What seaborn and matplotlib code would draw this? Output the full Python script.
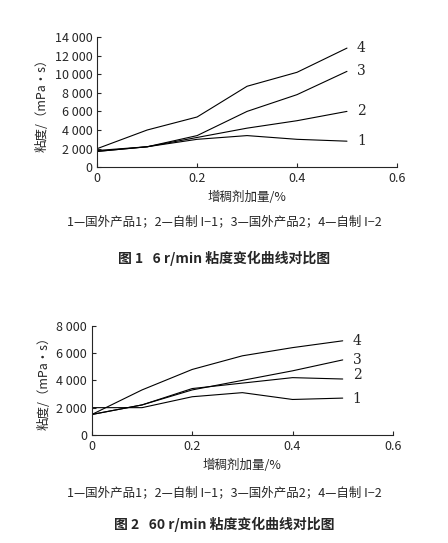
import matplotlib
matplotlib.use("Agg")
import matplotlib.pyplot as plt
import seaborn as sns
import pandas as pd
from matplotlib.ticker import FuncFormatter

sns.set_style("ticks")
plt.rcParams['font.family'] = ['Noto Sans CJK SC', 'DejaVu Sans']

x = [0, 0.1, 0.2, 0.3, 0.4, 0.5]
f1_s1 = [1800, 2200, 3000, 3400, 3000, 2800]
f1_s2 = [1700, 2200, 3200, 4200, 5000, 6000]
f1_s3 = [1700, 2200, 3400, 6000, 7800, 10300]
f1_s4 = [2000, 4000, 5400, 8700, 10200, 12800]
f2_s1 = [2000, 2000, 2800, 3100, 2600, 2700]
f2_s2 = [1500, 2200, 3400, 3800, 4200, 4100]
f2_s3 = [1500, 2200, 3300, 4000, 4700, 5500]
f2_s4 = [1500, 3300, 4800, 5800, 6400, 6900]
labels = ["1", "2", "3", "4"]
xticks = [0, 0.2, 0.4, 0.6]
legend_text = "1—国外产品1；2—自制 I−1；3—国外产品2；4—自制 I−2"
captions = ["图 1   6 r/min 粘度变化曲线对比图", "图 2   60 r/min 粘度变化曲线对比图"]

fmt = FuncFormatter(lambda v, p: f"{int(v):,}".replace(",", " "))
fig = plt.figure(figsize=(4.48, 5.43), dpi=100)
ax1 = fig.add_axes([0.217, 0.692, 0.669, 0.24])
ax2 = fig.add_axes([0.205, 0.199, 0.672, 0.201])

def draw(ax, series, ymax, ystep, offs):
    for s, lab, o in zip(series, labels, offs):
        df = pd.DataFrame({"x": x, "y": s})
        sns.lineplot(data=df, x="x", y="y", ax=ax, color="black", linewidth=0.8)
        ax.text(0.52, s[-1] + o, lab, fontsize=10, va="center", family="DejaVu Serif")
    ax.set_xlim(0, 0.6)
    ax.set_ylim(0, ymax)
    ax.set_xticks(xticks)
    ax.set_xticklabels(["0", "0.2", "0.4", "0.6"])
    ax.set_yticks(range(0, ymax + 1, ystep))
    ax.yaxis.set_major_formatter(fmt)
    ax.tick_params(labelsize=9, direction="in", length=3)
    sns.despine(ax=ax)
    ax.set_xlabel("增稠剂加量/%", fontsize=9)
    ax.set_ylabel("粘度/（mPa·s）", fontsize=9)

draw(ax1, [f1_s1, f1_s2, f1_s3, f1_s4], 14000, 2000, [0, 0, 0, 0])
draw(ax2, [f2_s1, f2_s2, f2_s3, f2_s4], 8000, 2000, [-100, 300, 0, 0])

fig.text(0.5, 1 - 222 / 543, legend_text, ha="center", va="center", fontsize=9)
fig.text(0.5, 1 - 258 / 543, captions[0], ha="center", va="center", fontsize=10, weight="bold")
fig.text(0.5, 1 - 493 / 543, legend_text, ha="center", va="center", fontsize=9)
fig.text(0.5, 1 - 524 / 543, captions[1], ha="center", va="center", fontsize=10, weight="bold")

fig.savefig("out.png", dpi=100, facecolor="white")
